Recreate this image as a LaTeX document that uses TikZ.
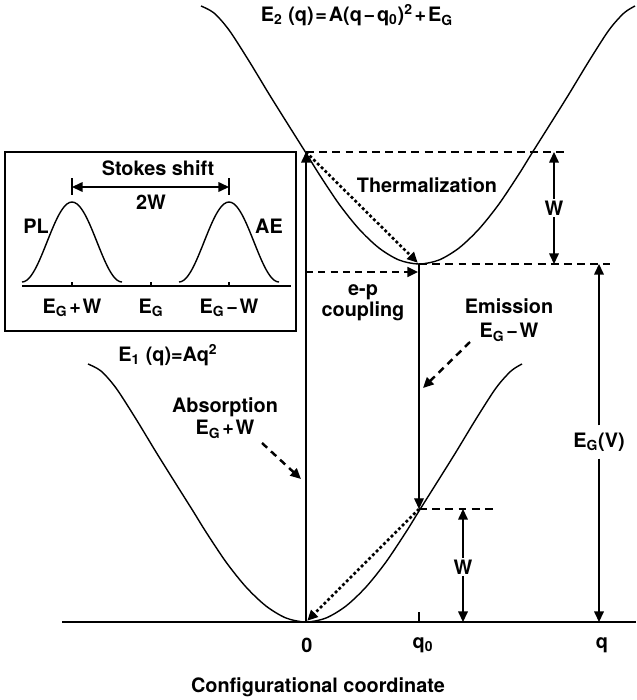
\documentclass[tikz,border=0pt]{standalone}
\usepackage{fontspec}
\setmainfont{TeX Gyre Heros}
\usetikzlibrary{arrows.meta}

\begin{document}
\begin{tikzpicture}[x=0.02cm, y=-0.02cm, font=\fontsize{11.3}{13}\selectfont\bfseries]
    \tikzset{
        curve/.style={line width=0.8pt},
        arc/.style={-{Triangle[length=6pt,width=5.5pt]}, line width=0.7pt},
        level/.style={dash pattern=on 4.5pt off 3pt, line width=0.6pt},
        hint/.style={-{Triangle[length=6pt,width=5.5pt]}, line width=1.4pt, dash pattern=on 4pt off 3pt},
        relax/.style={-{Triangle[length=6pt,width=5.5pt]}, line width=1.5pt, dash pattern=on 1.6pt off 1.4pt},
        lbl/.style={inner sep=1pt, align=center}
    }
    \useasboundingbox (0,0) rectangle (636,700);

    % the two wells E1 and E2
    \foreach \cx/\cy in {306/622, 419/264}{
        \draw[curve, shift={(\cx,\cy)}] plot[smooth] coordinates {
            (-218,-258) (-205,-251) (-190,-234) (-170,-203) (-150,-170) (-130,-138) (-113,-111)
            (-100,-90) (-80,-60) (-60,-35) (-40,-16) (-20,-4) (0,0) (20,-4) (40,-16) (60,-35)
            (80,-60) (100,-90) (113,-111) (130,-138) (150,-170) (170,-203) (190,-234) (205,-251) (216,-258)};
    }

    \coordinate (O) at (306,622);
    \coordinate (abs) at (306,152);
    \coordinate (min2) at (419,264);
    \coordinate (emi) at (419,509);

    \draw[line width=1.1pt] (62,622) -- (636,622);
    \draw[line width=0.8pt] (419,612) -- (419,622);

    % levels
    \draw[level] (abs) -- (567,152);
    \draw[level] (min2) -- (610,264);
    \draw[level] (emi) -- (496,509);

    % transitions
    \draw[arc] (O) -- (abs);
    \draw[arc, line width=0.6pt] (min2) -- (emi);
    \draw[relax, shorten >=1pt] (abs) -- (min2);
    \draw[relax, shorten >=1pt] (emi) -- (O);
    \coordinate (ep1) at (306,272);
    \coordinate (ep2) at (418,272);
    \draw[hint] (ep1) -- (ep2);

    % W and E_G(V) arrows
    \draw node[lbl] (Wa) at (554,208) {W};
    \draw[arc] (Wa) -- (554,152);
    \draw[arc] (Wa) -- (554,264);
    \draw node[lbl] (Wb) at (463,567) {W};
    \draw[arc] (Wb) -- (463,509);
    \draw[arc] (Wb) -- (463,622);
    \draw node[lbl, inner sep=4pt] (EGV) at (599,442) {E\textsubscript{G}(V)};
    \draw[arc] (EGV) -- (599,264);
    \draw[arc] (EGV) -- (599,622);

    % labels
    \draw node[lbl] (E2) at (357,15) {E\textsubscript{2} (q)\kern1pt=\kern1ptA(q\kern1pt−\kern1ptq\textsubscript{0})\textsuperscript{2}\kern1pt+\kern1ptE\textsubscript{G}};
    \draw node[lbl] (E1) at (168,355) {E\textsubscript{1} (q)=Aq\textsuperscript{2}};
    \draw node[lbl] (therm) at (427,185) {Thermalization};
    \draw node[lbl] (ep) at (363,303) {e-p\\[-1pt]coupling};
    \draw node[lbl] (emis) at (509,320) {Emission\\[1pt]E\textsubscript{G}\kern1pt−\kern1ptW};
    \draw node[lbl] (absp) at (225,418) {Absorption\\E\textsubscript{G}\kern1pt+\kern1ptW};
    \coordinate (emA) at (470,342);
    \coordinate (emB) at (423,388);
    \draw[hint] (emA) -- (emB);
    \coordinate (abA) at (262,443);
    \coordinate (abB) at (301,479);
    \draw[hint] (abA) -- (abB);

    \draw node[lbl] (q0) at (307,645) {0};
    \draw node[lbl] (q1) at (423,645) {q\textsubscript{0}};
    \draw node[lbl] (q2) at (602,645) {q};
    \draw node[lbl] (xlab) at (318,687) {Configurational coordinate};

    % inset: PL and AE bands
    \draw[line width=1pt] (5,152) rectangle (296,331);
    \draw[curve] (22,286) -- (291,286);
    \foreach \px in {72,151,229}{
        \draw[curve] (\px,282) -- (\px,286);
    }
    \foreach \px in {72,229}{
        \draw[curve] plot[domain=-50:50, samples=41, smooth] ({\x+\px},{282-40*(1+cos(3.6*\x))});
    }
    \draw[curve] (72,178) -- (72,195);
    \draw[curve] (229,178) -- (229,195);
    \coordinate (st1) at (72,187);
    \coordinate (st2) at (229,187);
    \draw[arc, {Triangle[length=6pt,width=5.5pt]}-{Triangle[length=6pt,width=5.5pt]}] (st1) -- (st2);
    \draw node[lbl] (stokes) at (158,168) {Stokes shift};
    \draw node[lbl] (twoW) at (151,202) {2W};
    \draw node[lbl] (PL) at (36,226) {PL};
    \draw node[lbl] (AE) at (269,226) {AE};
    \draw node[lbl] (b1) at (72,308) {E\textsubscript{G}\kern1pt+\kern1ptW};
    \draw node[lbl] (b2) at (151,308) {E\textsubscript{G}};
    \draw node[lbl] (b3) at (229,308) {E\textsubscript{G}\kern1pt−\kern1ptW};
\end{tikzpicture}
\end{document}
